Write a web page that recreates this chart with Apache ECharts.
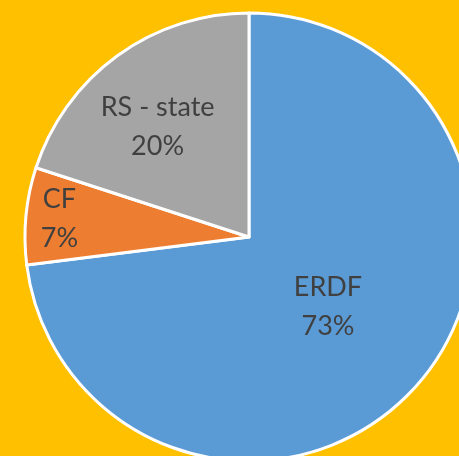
<!DOCTYPE html>
<html>
<head>
<meta charset="utf-8">
<script src="https://cdn.jsdelivr.net/npm/echarts@6/dist/echarts.min.js"></script>
<style>
  html, body { margin: 0; padding: 0; background: #FFC000; }
  #chart { width: 459px; height: 456px; }
</style>
</head>
<body>
<div id="chart"></div>
<script>
// Funding split
const categories = ['ERDF', 'CF', 'RS - state'];
const shares = [73, 7, 20];
const sliceColors = ['#5B9BD5', '#ED7D31', '#A5A5A5'];
// Label placement: fraction of radius and angular nudge (radians) per slice
const labelRadius = [0.47, 0.85, 0.64];
const labelNudge = [0, 0, -0.063];

const CX = 249, CY = 237, R = 224;
const total = shares.reduce((a, b) => a + b, 0);

function midAngle(i) {
  let before = 0;
  for (let k = 0; k < i; k++) before += shares[k];
  return ((before + shares[i] / 2) / total) * Math.PI * 2;
}

const chart = echarts.init(document.getElementById('chart'));
chart.setOption({
  backgroundColor: '#FFC000',
  animation: false,
  series: [{
    type: 'pie',
    center: [CX, CY],
    radius: [0, R],
    startAngle: 90,
    clockwise: true,
    data: categories.map((name, i) => ({
      name: name,
      value: shares[i],
      itemStyle: { color: sliceColors[i] }
    })),
    itemStyle: { borderColor: '#FFFFFF', borderWidth: 3 },
    label: {
      show: true,
      position: 'inside',
      formatter: p => p.name + '\n' + p.value + '%',
      fontFamily: 'Lato',
      fontSize: 27,
      lineHeight: 39,
      color: '#404040',
      align: 'center'
    },
    labelLine: { show: false },
    labelLayout: function (params) {
      const i = params.dataIndex;
      const a = midAngle(i) + labelNudge[i];
      const d = labelRadius[i] * R;
      return {
        x: CX + d * Math.sin(a),
        y: CY - d * Math.cos(a),
        align: 'center',
        verticalAlign: 'middle'
      };
    }
  }]
});
</script>
</body>
</html>
